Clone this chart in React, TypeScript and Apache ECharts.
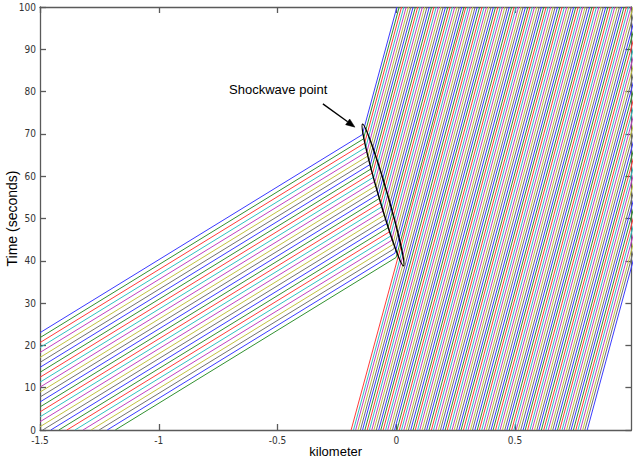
import React, { useEffect, useRef } from "react";
import * as echarts from "echarts";

// Axis ranges (km, seconds)
const X_MIN = -1.5;
const X_MAX = 0.99;
const Y_MIN = 0;
const Y_MAX = 100;
const X_INTERVAL = 0.5;
const Y_INTERVAL = 10;

// Vehicle pace in each regime (seconds per km)
const FAST_PACE = 34.5;
const SLOW_PACE = 207;

// Shockwave line end points [km, s]
const shockTop = [-0.143, 69.8];
const shockBottom = [-0.0007, 40.8];

// Arriving vehicles: time at which each trajectory crosses x = -1.5 km
const arrivalTimes = [
  23.0, 21.83, 20.66, 19.49, 18.32, 17.15, 15.98, 14.81, 13.64, 12.47,
  11.3, 10.13, 8.96, 7.79, 6.62, 5.45, 4.28, 3.11, 1.94, 0.77,
  -0.4, -1.57, -2.74, -3.91, -5.08, -6.25, -7.42, -8.59, -9.76, -10.93,
];

// Queued vehicles: position (km) at t = 0
const queueStartKm = [
  -0.19, -0.18, -0.171, -0.161, -0.151, -0.142, -0.132, -0.122, -0.113, -0.103,
  -0.094, -0.084, -0.074, -0.065, -0.055, -0.045, -0.036, -0.026, -0.016, -0.007,
  0.003, 0.013, 0.022, 0.032, 0.042, 0.051, 0.061, 0.071, 0.08, 0.09,
  0.099, 0.109, 0.119, 0.128, 0.138, 0.148, 0.157, 0.167, 0.177, 0.186,
  0.196, 0.206, 0.215, 0.225, 0.235, 0.244, 0.254, 0.264, 0.273, 0.283,
  0.293, 0.302, 0.312, 0.321, 0.331, 0.341, 0.35, 0.36, 0.37, 0.379,
  0.389, 0.399, 0.408, 0.418, 0.428, 0.437, 0.447, 0.457, 0.466, 0.476,
  0.486, 0.495, 0.505, 0.514, 0.524, 0.534, 0.543, 0.553, 0.563, 0.572,
  0.582, 0.592, 0.601, 0.611, 0.621, 0.63, 0.64, 0.65, 0.659, 0.669,
  0.679, 0.688, 0.698, 0.707, 0.717, 0.727, 0.736, 0.746, 0.756, 0.765,
  0.775, 0.785, 0.794, 0.804,
];

// MATLAB-like colour order b g r c m y k (as they appear in the picture)
const lineColors = ["#3a3aff", "#309030", "#ff3a3a", "#30c0c0", "#c040c0", "#c0c040", "#707070"];

// Annotation (data coordinates)
const annotationText = "Shockwave point";
const labelAt = [-0.704, 80.4];
const arrowFrom = [-0.309, 77.1];
const arrowTo = [-0.174, 71.6];
const ellipseTop = [-0.1421, 72.3];
const ellipseBottom = [0.0305, 38.8];

const tickFont = "'Liberation Sans Narrow', 'Arial Narrow', 'DejaVu Sans Condensed', sans-serif";
const textFont = "'Liberation Sans', Arial, sans-serif";

function shockIntersection(b: number): number[] {
  const ss = (shockBottom[1] - shockTop[1]) / (shockBottom[0] - shockTop[0]);
  const x = (shockTop[1] - ss * shockTop[0] - b + FAST_PACE * X_MIN) / (FAST_PACE - ss);
  const y = b + FAST_PACE * (x - X_MIN);
  return [x, y];
}

function buildSeries() {
  const series: any[] = [];
  arrivalTimes.forEach((b, k) => {
    const start = b >= 0 ? [X_MIN, b] : [X_MIN - b / FAST_PACE, 0];
    const turn = shockIntersection(b);
    const end = [turn[0] + (Y_MAX - turn[1]) / SLOW_PACE, Y_MAX];
    series.push({ type: "line", data: [start, turn, end], color: lineColors[k % 7] });
  });
  queueStartKm.forEach((x0, i) => {
    series.push({
      type: "line",
      data: [[x0, 0], [x0 + Y_MAX / SLOW_PACE, Y_MAX]],
      color: lineColors[(arrivalTimes.length + i) % 7],
    });
  });
  return series.map((s) => ({
    ...s,
    symbol: "none",
    silent: true,
    clip: true,
    lineStyle: { width: 1, color: s.color },
    itemStyle: { color: s.color },
  }));
}

const axisLineStyle = { color: "#5a5a5a", width: 1.3 };

export default function App() {
  const ref = useRef<HTMLDivElement>(null);
  useEffect(() => {
    if (!ref.current) return;
    const chart = echarts.init(ref.current, undefined, { renderer: "svg" });
    chart.setOption({
      animation: false,
      backgroundColor: "#ffffff",
      grid: { left: 40, top: 7, right: 1.6, bottom: 29, containLabel: false, outerBoundsMode: "none" },
      xAxis: [
        {
          type: "value",
          min: X_MIN,
          max: X_MAX,
          interval: X_INTERVAL,
          position: "bottom",
          splitLine: { show: false },
          axisLine: { show: true, onZero: false, lineStyle: axisLineStyle },
          axisTick: { show: true, inside: true, length: 6, lineStyle: axisLineStyle },
          axisLabel: { fontSize: 10, color: "#333", fontFamily: tickFont, margin: 5, showMaxLabel: false },
          name: "kilometer",
          nameLocation: "middle",
          nameGap: 15,
          nameMoveOverlap: false,
          nameTextStyle: { fontSize: 13, color: "#000", fontFamily: textFont },
        },
        {
          type: "value",
          min: X_MIN,
          max: X_MAX,
          interval: X_INTERVAL,
          position: "top",
          splitLine: { show: false },
          axisLine: { show: true, onZero: false, lineStyle: axisLineStyle },
          axisTick: { show: true, inside: true, length: 6, lineStyle: axisLineStyle },
          axisLabel: { show: false },
        },
      ],
      yAxis: [
        {
          type: "value",
          min: Y_MIN,
          max: Y_MAX,
          interval: Y_INTERVAL,
          position: "left",
          splitLine: { show: false },
          axisLine: { show: true, onZero: false, lineStyle: axisLineStyle },
          axisTick: { show: true, inside: true, length: 6, lineStyle: axisLineStyle },
          axisLabel: { fontSize: 10, color: "#333", fontFamily: tickFont, margin: 4 },
          name: "Time (seconds)",
          nameLocation: "middle",
          nameRotate: 90,
          nameGap: 21,
          nameMoveOverlap: false,
          nameTextStyle: { fontSize: 14, color: "#000", fontFamily: textFont },
        },
        {
          type: "value",
          min: Y_MIN,
          max: Y_MAX,
          interval: Y_INTERVAL,
          position: "right",
          splitLine: { show: false },
          axisLine: { show: true, onZero: false, lineStyle: axisLineStyle },
          axisTick: { show: true, inside: true, length: 6, lineStyle: axisLineStyle },
          axisLabel: { show: false },
        },
      ],
      series: buildSeries(),
    });

    const toPx = (p: number[]) =>
      chart.convertToPixel({ xAxisIndex: 0, yAxisIndex: 0 }, p) as number[];
    const et = toPx(ellipseTop);
    const eb = toPx(ellipseBottom);
    const ecx = (et[0] + eb[0]) / 2;
    const ecy = (et[1] + eb[1]) / 2;
    const edx = eb[0] - et[0];
    const edy = eb[1] - et[1];
    const eLen = Math.hypot(edx, edy) / 2;
    const eRot = Math.atan2(edx, edy);

    const a0 = toPx(arrowFrom);
    const a1 = toPx(arrowTo);
    const adx = a1[0] - a0[0];
    const ady = a1[1] - a0[1];
    const al = Math.hypot(adx, ady);
    const ux = adx / al;
    const uy = ady / al;
    const nx = -uy;
    const ny = ux;
    const headLen = 9;
    const headHalf = 3.5;
    const base = [a1[0] - ux * headLen, a1[1] - uy * headLen];

    const lp = toPx(labelAt);

    chart.setOption({
      graphic: [
        {
          type: "ellipse",
          x: ecx,
          y: ecy,
          rotation: eRot,
          shape: { cx: 0, cy: 0, rx: 4.5, ry: eLen },
          style: { fill: "none", stroke: "#000", lineWidth: 1.4 },
          silent: true,
          z: 100,
        },
        {
          type: "line",
          shape: { x1: a0[0], y1: a0[1], x2: base[0], y2: base[1] },
          style: { stroke: "#000", lineWidth: 1.3 },
          silent: true,
          z: 100,
        },
        {
          type: "polygon",
          shape: {
            points: [
              [a1[0], a1[1]],
              [base[0] + nx * headHalf, base[1] + ny * headHalf],
              [base[0] - nx * headHalf, base[1] - ny * headHalf],
            ],
          },
          style: { fill: "#000", stroke: "#000", lineWidth: 0.5 },
          silent: true,
          z: 100,
        },
        {
          type: "text",
          x: lp[0],
          y: lp[1],
          style: {
            text: annotationText,
            fontSize: 13,
            fontFamily: textFont,
            fill: "#000",
            align: "left",
            verticalAlign: "middle",
          },
          silent: true,
          z: 100,
        },
      ],
    });

    return () => chart.dispose();
  }, []);

  return (
    <div
      ref={ref}
      style={{ position: "fixed", left: 0, top: 0, width: 633, height: 459, background: "#fff" }}
    />
  );
}
